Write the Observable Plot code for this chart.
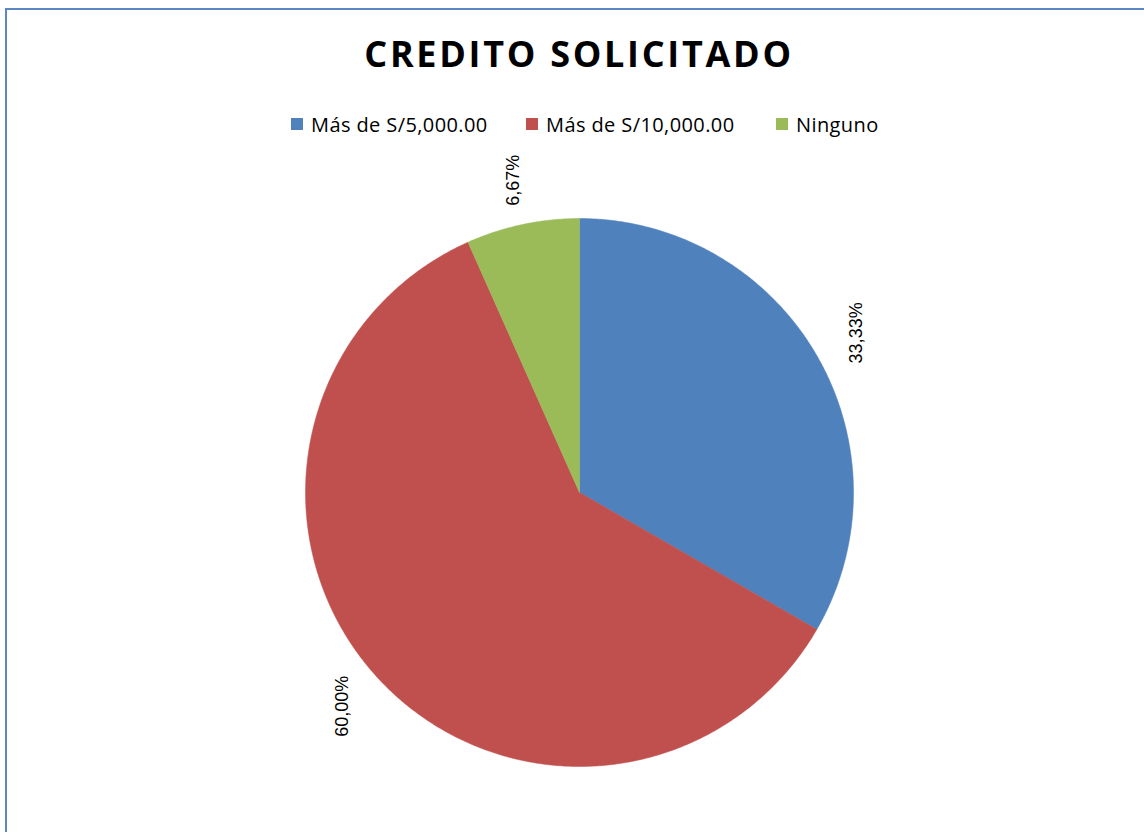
<!DOCTYPE html>
<html>
<head>
<meta charset="utf-8">
<script src="https://cdn.jsdelivr.net/npm/d3@7"></script>
<script src="https://cdn.jsdelivr.net/npm/@observablehq/plot@0.6"></script>
<style>
  html, body { margin: 0; padding: 0; background: #fff; overflow: hidden; }
  body { width: 1144px; height: 832px; position: relative; }
  #frame { position: absolute; left: 5px; top: 8px; width: 1150px; height: 840px;
           border-left: 2px solid #5B87C4; border-top: 2px solid #5B87C4; box-sizing: border-box; }
  #title { position: absolute; left: 0; width: 1144px; top: 32px; text-align: center;
           font-family: "Open Sans", sans-serif; font-weight: 700; font-size: 36px; letter-spacing: 2.7px;
           color: #000; line-height: 44px; padding-left: 14px; box-sizing: border-box; }
  #legend { position: absolute; top: 111px; left: 0; width: 1144px; height: 26px; }
  .item { position: absolute; top: 0; display: flex; align-items: center; height: 26px;
          font-family: "Open Sans", sans-serif; font-size: 20px; letter-spacing: 0.4px; color: #000; white-space: nowrap; }
  .sw { width: 12px; height: 12px; margin-right: 8px; }
  #chart { position: absolute; left: 0; top: 150px; }
</style>
</head>
<body>
<div id="frame"></div>
<div id="title">CREDITO SOLICITADO</div>
<div id="legend"></div>
<div id="chart"></div>
<script>
// ---- data ----
const categories = ["Más de S/5,000.00", "Más de S/10,000.00", "Ninguno"];
const values = [33.33, 60.00, 6.67];
const labels = ["33,33%", "60,00%", "6,67%"];
const colors = ["#4F81BD", "#C0504D", "#9BBB59"];

// ---- layout ----
const W = 1144, H = 680;
const R = 274, cx = 579, cy = 342;
const legendX = [291, 526, 776];

// legend (HTML)
const legend = document.getElementById("legend");
categories.forEach((c, i) => {
  const d = document.createElement("div");
  d.className = "item";
  d.style.left = legendX[i] + "px";
  d.innerHTML = `<span class="sw" style="background:${colors[i]}"></span><span>${c}</span>`;
  legend.appendChild(d);
});

// pie geometry from data
const total = d3.sum(values);
const slices = [];
const labelRows = [];
let acc = 0;
categories.forEach((c, i) => {
  const a0 = acc / total * 2 * Math.PI;
  acc += values[i];
  const a1 = acc / total * 2 * Math.PI;
  const n = Math.max(2, Math.ceil((a1 - a0) / (Math.PI / 360)));
  slices.push({cat: c, x: 0, y: 0, k: 0});
  for (let j = 0; j <= n; j++) {
    const a = a0 + (a1 - a0) * j / n;
    slices.push({cat: c, x: Math.sin(a), y: Math.cos(a), k: j + 1});
  }
  slices.push({cat: c, x: 0, y: 0, k: n + 2});
  const am = (a0 + a1) / 2;
  const rl = 1.165;
  labelRows.push({cat: c, label: labels[i], x: rl * Math.sin(am), y: rl * Math.cos(am)});
});

const chart = Plot.plot({
  width: W,
  height: H,
  margin: 0,
  x: {domain: [-cx / R, (W - cx) / R], range: [0, W], axis: null},
  y: {domain: [-(H - cy) / R, cy / R], range: [H, 0], axis: null},
  color: {domain: categories, range: colors},
  style: {background: "transparent"},
  marks: [
    Plot.line(slices, {x: "x", y: "y", z: "cat", fill: "cat", stroke: "cat", strokeWidth: 0.5, curve: "linear"}),
    Plot.text(labelRows, {x: "x", y: "y", text: "label", rotate: -90, fontSize: 18,
      fontFamily: "Liberation Sans, Arial, sans-serif", fill: "#000", textAnchor: "middle"})
  ]
});
document.getElementById("chart").appendChild(chart);
</script>
</body>
</html>
